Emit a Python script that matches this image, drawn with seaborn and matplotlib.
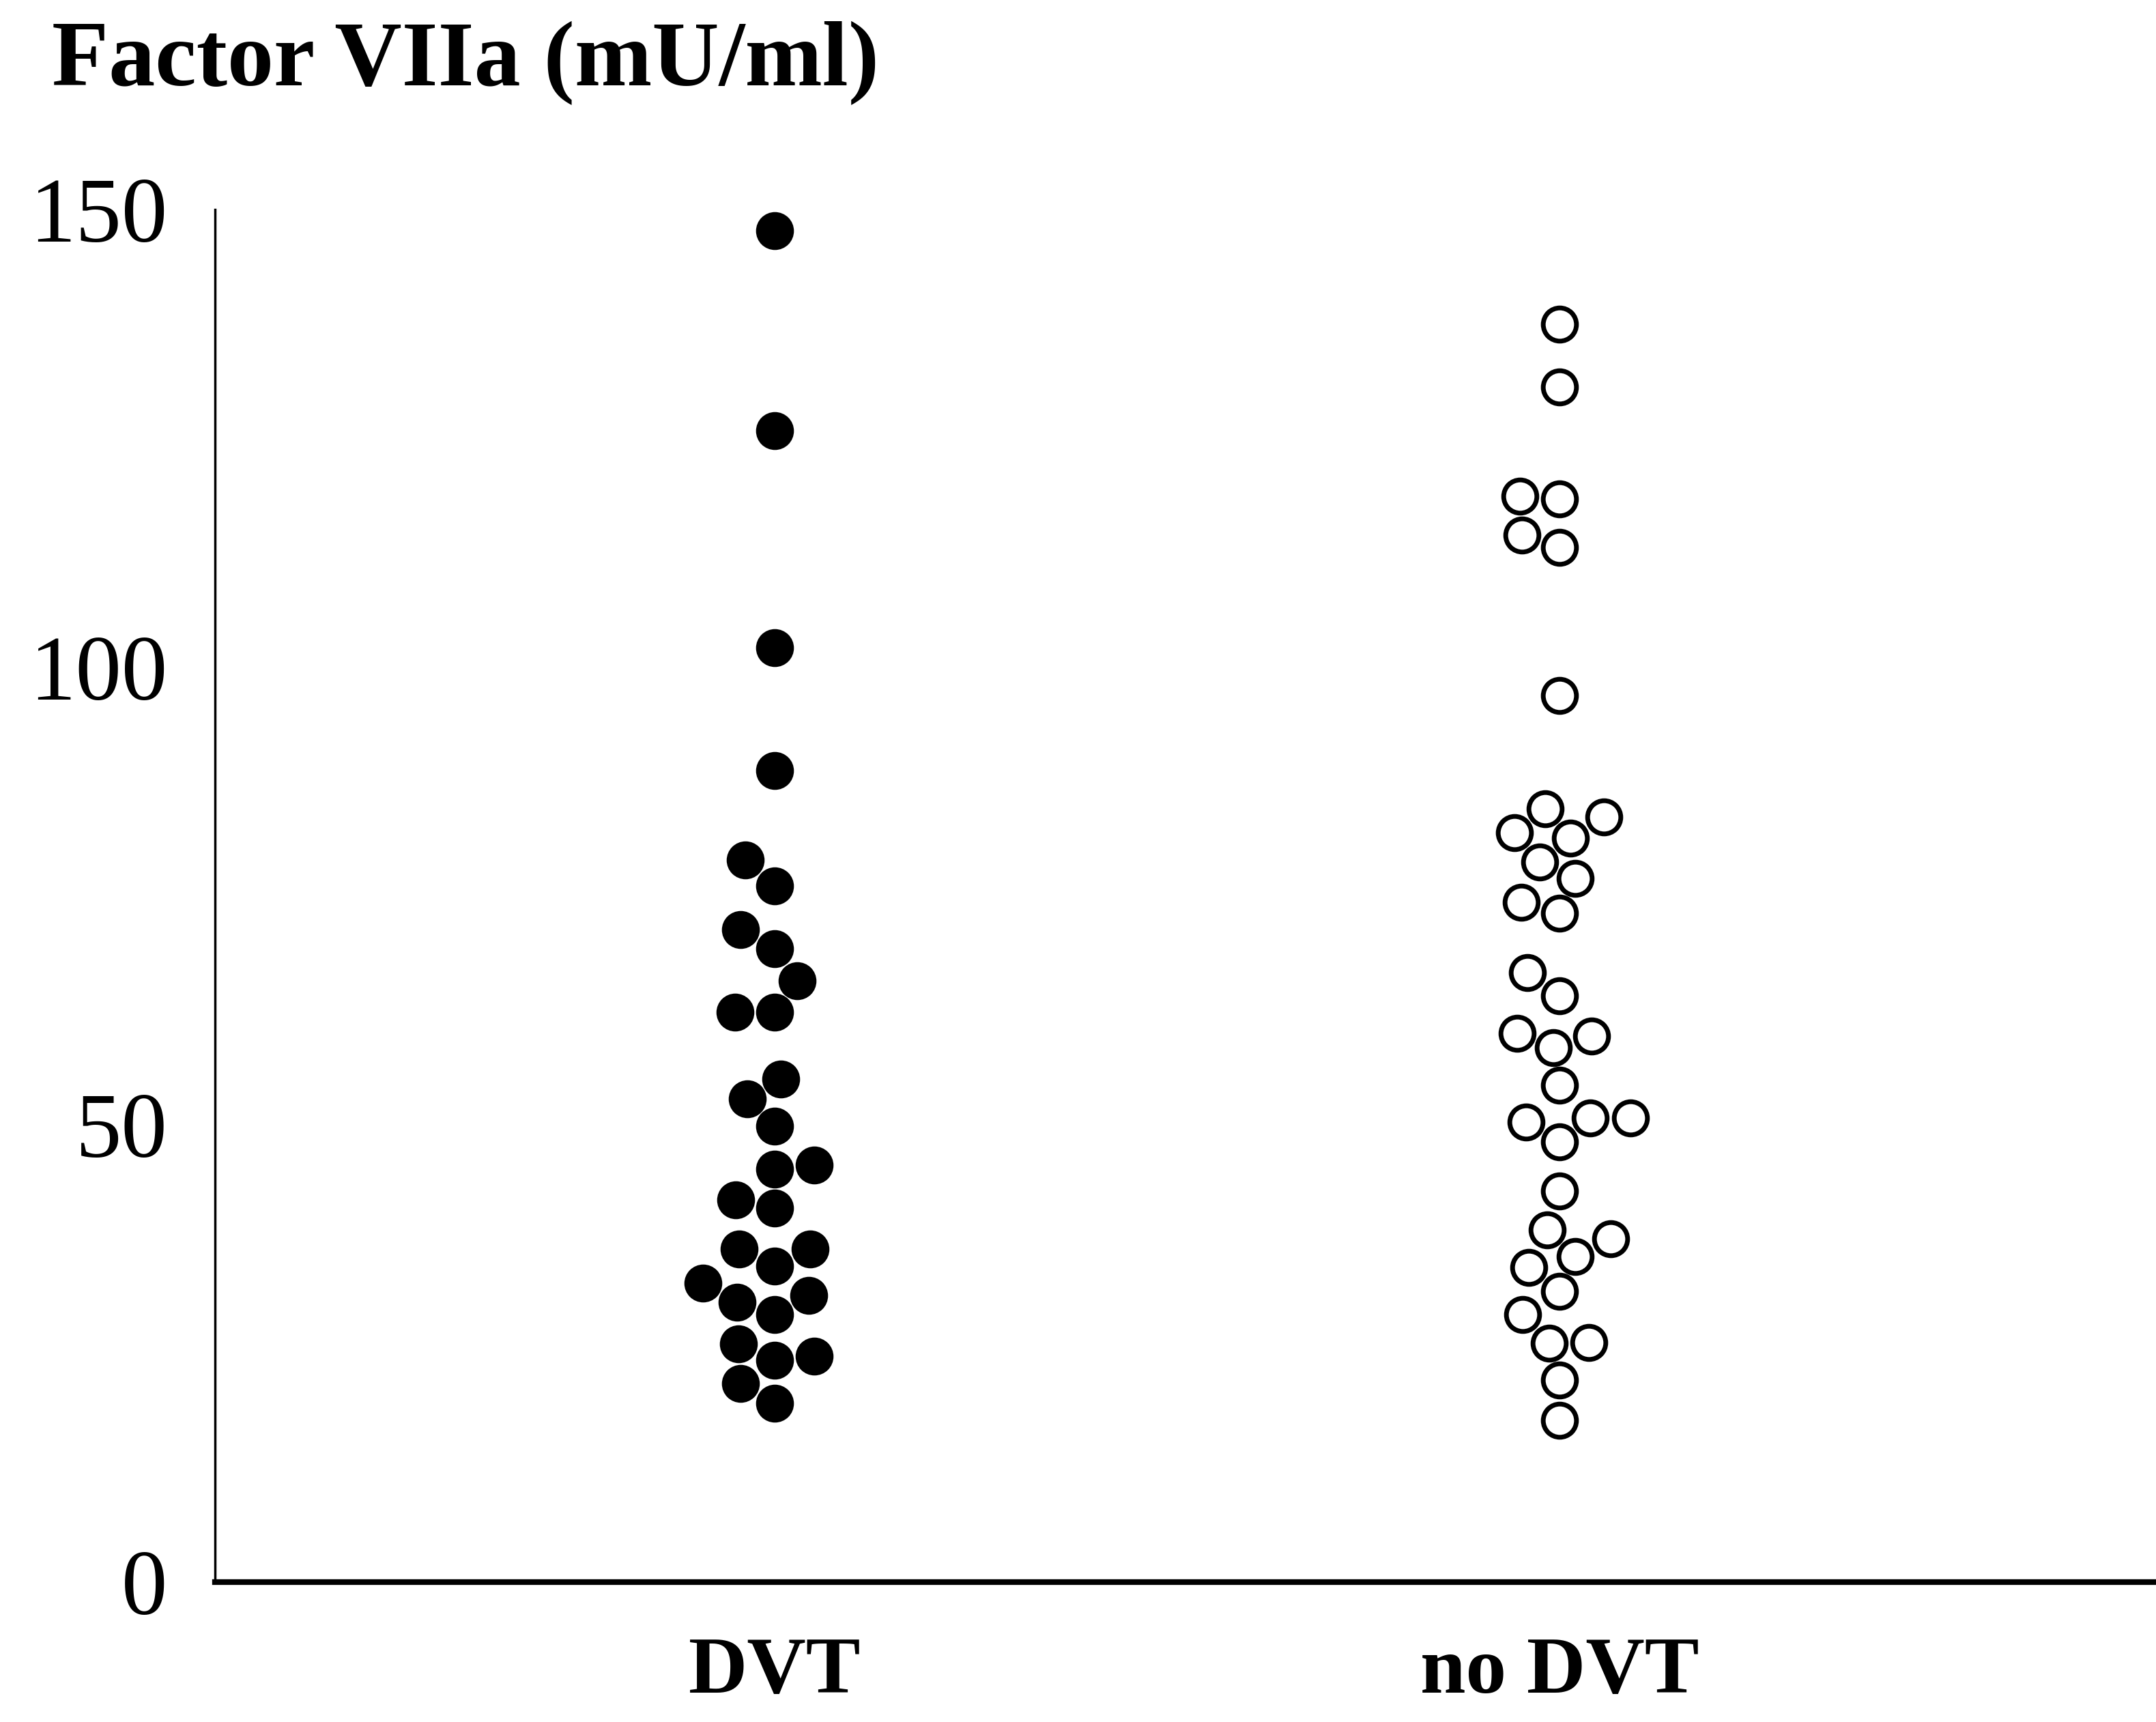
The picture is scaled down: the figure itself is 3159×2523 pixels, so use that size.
import pandas as pd
import matplotlib
matplotlib.use("Agg")
import matplotlib.pyplot as plt
import seaborn as sns

# values (mU/ml)
groups = ["DVT", "no DVT"]
dvt = [147.7, 125.8, 102.1, 88.7, 78.9, 76.1, 71.3, 69.2, 65.7, 62.3,
       62.3, 55.0, 52.8, 49.8, 45.6, 45.1, 41.8, 40.9, 36.4, 36.4,
       34.5, 32.7, 31.3, 30.6, 29.2, 26.0, 24.7, 24.2, 21.7, 19.5]
no_dvt = [137.5, 130.6, 118.7, 118.4, 114.4, 113.1, 96.9, 84.5, 83.6, 81.9,
          81.3, 78.7, 76.9, 74.3, 73.1, 66.6, 64.1, 60.0, 59.7, 58.4,
          54.3, 50.7, 50.3, 50.7, 48.1, 42.7, 38.5, 37.5, 35.6, 34.4,
          31.8, 29.2, 26.1, 26.2, 22.1, 17.7]
yticks = [0, 50, 100, 150]
title = "Factor VIIa (mU/ml)"

sns.set_theme(style="white")
plt.rcParams['font.family'] = ['Liberation Serif', 'DejaVu Serif']
plt.rcParams['text.color'] = 'black'
plt.rcParams['xtick.color'] = 'black'
plt.rcParams['ytick.color'] = 'black'

df = pd.DataFrame({"group": [groups[0]] * len(dvt) + [groups[1]] * len(no_dvt),
                   "value": dvt + no_dvt})

fig = plt.figure(figsize=(31.59, 25.23), dpi=100)
ax = fig.add_axes([0.0997, 0.0813, 0.9003, 0.797])

sns.swarmplot(data=df[df.group == groups[0]], x="group", y="value", order=groups,
              ax=ax, color="black", size=40, linewidth=0)
sns.swarmplot(data=df[df.group == groups[1]], x="group", y="value", order=groups,
              ax=ax, color="white", edgecolor="black", size=35, linewidth=5)

ax.set_ylim(0, 150)
ax.set_xlim(-0.713, 1.76)
ax.set_xlabel("")
ax.set_ylabel("")

ax.set_yticks(yticks)
ax.set_yticklabels([str(t) for t in yticks])
ax.tick_params(axis="y", length=0, pad=50, labelsize=97)
ax.set_xticks([0, 1])
ax.set_xticklabels(groups, fontweight="bold")
ax.tick_params(axis="x", length=0, pad=58, labelsize=86)

sns.despine(ax=ax)
ax.spines["left"].set_linewidth(2.5)
ax.spines["bottom"].set_linewidth(6)
ax.spines["left"].set_color("black")
ax.spines["bottom"].set_color("black")

fig.text(76 / 3159, 1 - 125 / 2523, title, fontsize=98, fontweight="bold",
         ha="left", va="baseline")

fig.savefig("out.png", dpi=100)
